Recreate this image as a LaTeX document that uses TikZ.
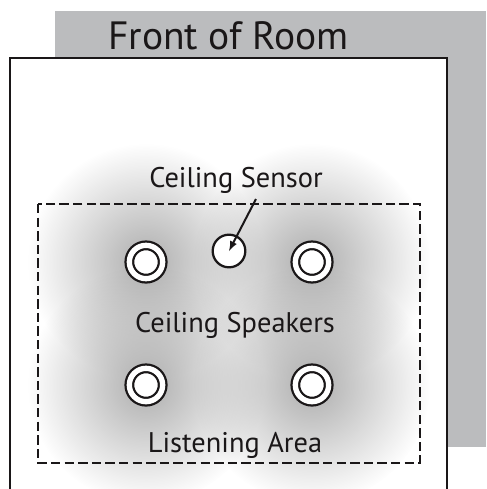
\documentclass[tikz,border=0pt]{standalone}
\usepackage{fontspec}
\setmainfont{PT Sans}
\usetikzlibrary{positioning,fadings}
\definecolor{wallgray}{HTML}{BBBCBE}
\definecolor{glowgray}{HTML}{AEAEAE}
\definecolor{inkblack}{HTML}{1A1718}
\tikzfading[name=glowfade, inner color=transparent!0, outer color=transparent!100]
\tikzstyle{wall} = [draw=inkblack, line width=1.9pt, fill=white, line join=miter]
\tikzstyle{glow} = [fill=glowgray, path fading=glowfade]
\tikzstyle{area} = [draw=inkblack, line width=1.7pt, dash pattern=on 7pt off 3.2pt]
\tikzstyle{speaker} = [circle, draw=inkblack, line width=1.7pt, double=white, double distance=4pt, fill=white, minimum size=25pt, inner sep=0pt, outer sep=0pt]
\tikzstyle{sensor} = [circle, draw=inkblack, line width=1.7pt, fill=white, minimum size=24.5pt, inner sep=0pt]
\tikzstyle{biglabel} = [text=inkblack, font=\fontsize{29.6}{31}\selectfont, inner sep=0pt]
\tikzstyle{smalllabel} = [text=inkblack, font=\fontsize{21.3}{23}\selectfont, inner sep=0pt]
\tikzstyle{arrow} = [line width=1.5pt, draw=inkblack, ->, >=latex]
\begin{document}
\begin{tikzpicture}[x=0.75pt, y=-0.75pt, node distance=124.5pt]
    \useasboundingbox (0,0) rectangle (486,489);
    \fill [wallgray] (55,11) rectangle (486,447);
    \node (front) [biglabel] at (228.5,36) {Front of Room};
    \filldraw [wall] (10,491) -- (10,58) -- (447,58) -- (447,491);
    % soft sound field
    \foreach \gx/\gy in {146/262, 312/262, 146/385, 312/385}
        \fill [glow] (\gx,\gy) circle (118);
    \draw [area] (38,204) rectangle (420,463);
    \node (spk1) [speaker] at (146,262) {};
    \node (spk2) [speaker, right of=spk1] {};
    \node (spk3) [speaker, below of=spk1, yshift=32.25pt] {};
    \node (spk4) [speaker, right of=spk3] {};
    \node (sens) [sensor] at (229,251) {};
    \node (senslabel) [smalllabel] at (236,180) {Ceiling Sensor};
    \node (spklabel) [smalllabel] at (235,325) {Ceiling Speakers};
    \node (arealabel) [smalllabel] at (235,445) {Listening Area};
    \coordinate (tail) at (256,199);
    \draw [arrow] (tail) -- (sens.center);
\end{tikzpicture}
\end{document}
